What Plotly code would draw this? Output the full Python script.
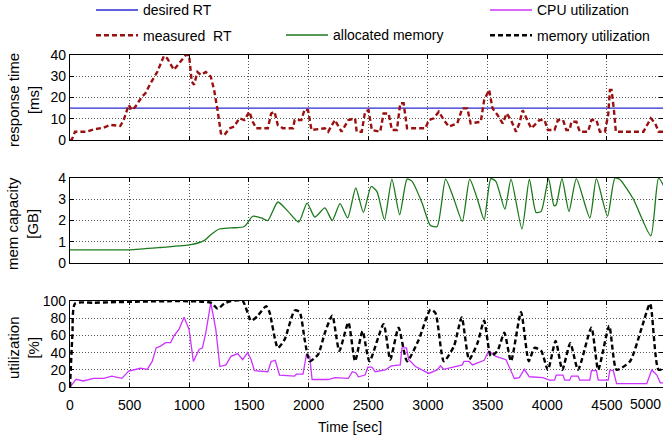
import plotly.graph_objects as go

# ---------------- data ----------------
rt_time = [0, 14, 42, 140, 197, 281, 337, 421, 450, 492, 520, 548, 604, 632, 675, 731, 787, 815, 871, 913,
           970, 998, 1020, 1040, 1068, 1096, 1138, 1180, 1208, 1237, 1265, 1293, 1335, 1377, 1419, 1461,
           1503, 1532, 1560, 1658, 1686, 1714, 1742, 1784, 1869, 1883, 1939, 1967, 1995, 2024, 2136, 2164,
           2220, 2276, 2333, 2389, 2403, 2445, 2473, 2502, 2530, 2600, 2628, 2670, 2698, 2740, 2768, 2796,
           2825, 2979, 3007, 3049, 3091, 3133, 3176, 3246, 3288, 3330, 3358, 3443, 3471, 3513, 3541, 3583,
           3626, 3660, 3696, 3738, 3766, 3794, 3836, 3865, 3893, 3935, 3977, 4005, 4061, 4089, 4132, 4160,
           4188, 4202, 4244, 4272, 4342, 4370, 4412, 4441, 4483, 4511, 4525, 4539, 4559, 4575, 4806, 4834,
           4868, 4905, 4933, 5000]
rt_measured = [0, 0, 3.9, 3.9, 5.0, 5.8, 7.1, 6.6, 9.4, 16.5, 14, 15.7, 20.4, 22, 26.7, 32, 39.5, 38.4, 33, 36,
               40, 40, 27.5, 26, 32, 30.6, 32, 29.8, 23.5, 14, 3.1, 2.3, 5.5, 6.3, 10.2, 9.4,
               13.3, 8.6, 5.5, 5.5, 12.5, 13.3, 7, 5.5, 5.5, 9.4, 9.4, 14.4, 14, 4.7, 5.5, 3.9,
               9.4, 3.9, 9.4, 10.2, 3.9, 3.9, 13.3, 14, 4.7, 3.9, 12.5, 12.5, 4.7, 4.7, 17.3, 17.3,
               5.5, 5.5, 9.4, 10.2, 13.3, 9.4, 6.3, 7.8, 14.9, 14.9, 7.8, 8.6, 18.8, 23.5, 14.9, 11.8,
               7.8, 12.5, 9.4, 3.9, 7.8, 14, 9.4, 5.5, 7, 9.4, 9.4, 4.7, 4.7, 9.4, 9.4, 4.7,
               4.7, 8.6, 8.6, 3.9, 3.9, 9.4, 9.4, 3.9, 3.9, 12, 23.5, 23.5, 14, 3.9, 3.9, 7,
               10.2, 7.8, 3.9, 3.9]
rt_desired_time = [0, 5000]
rt_desired = [15, 15]

mem_time = [0, 250, 500, 759, 1012, 1124, 1180, 1251, 1349, 1461, 1532, 1602, 1658, 1742, 1827, 1917, 1987,
            2052, 2136, 2198, 2263, 2327, 2395, 2459, 2524, 2572, 2636, 2698, 2763, 2825, 2867, 2951, 3021,
            3077, 3148, 3218, 3288, 3350, 3415, 3471, 3527, 3569, 3645, 3696, 3788, 3850, 3906, 3949, 4011,
            4056, 4075, 4123, 4182, 4244, 4357, 4412, 4505, 4567, 4610, 4722, 4868, 4933, 5003]
mem_alloc = [0.62, 0.62, 0.62, 0.73, 0.86, 1.05, 1.33, 1.6, 1.65, 1.72, 2.2, 2.12, 2.0, 2.87, 2.43, 1.93, 2.82,
             2.16, 2.59, 2.0, 2.79, 2.12, 3.53, 2.38, 3.6, 3.37, 2.04, 3.95, 2.27, 3.95, 3.84, 2.82, 1.76,
             1.72, 3.95, 3.0, 1.96, 3.95, 3.0, 2.04, 3.97, 3.84, 2.54, 3.95, 1.6, 3.95, 2.38, 2.43, 3.97,
             2.7, 2.74, 3.97, 2.43, 3.97, 2.12, 3.97, 2.2, 4.0, 3.92, 3.0, 1.28, 4.0, 3.3]

memu_time = [0, 20, 42, 200, 1180, 1237, 1293, 1349, 1447, 1518, 1574, 1644, 1672, 1742, 1798, 1883, 1925,
             1967, 2009, 2080, 2136, 2198, 2257, 2333, 2389, 2452, 2510, 2628, 2684, 2754, 2825, 2923, 3021,
             3063, 3133, 3218, 3283, 3345, 3415, 3471, 3527, 3583, 3640, 3696, 3780, 3845, 3893, 3949, 4005,
             4070, 4126, 4193, 4258, 4370, 4427, 4519, 4581, 4694, 4792, 4862, 4933, 5003]
mem_util = [0, 60, 97, 98, 98, 91, 97, 100, 100, 77, 83, 94, 87, 45.5, 55, 89, 87,
            55, 30, 38, 63, 83, 42, 75, 30, 65, 30, 73, 32, 69, 30, 55, 90,
            86, 30, 47.5, 81, 32, 51, 77, 36, 42, 63, 30, 87, 30, 45.5, 42, 20,
            53.5, 20, 51, 20, 69, 20, 71, 20, 30, 69, 97, 20, 24]

cpu_time = [0, 51, 112, 197, 281, 351, 435, 492, 590, 647, 689, 722, 759, 801, 843, 871, 913, 956, 998, 1034,
            1082, 1110, 1138, 1180, 1222, 1256, 1307, 1349, 1405, 1447, 1489, 1518, 1546, 1658, 1686, 1720,
            1756, 1883, 1897, 1953, 1981, 2009, 2029, 2164, 2220, 2333, 2366, 2395, 2417, 2473, 2496, 2530,
            2558, 2642, 2693, 2768, 2782, 2820, 2839, 2895, 3007, 3049, 3077, 3105, 3133, 3288, 3302, 3345,
            3373, 3471, 3508, 3541, 3569, 3654, 3724, 3766, 3808, 3850, 3963, 4019, 4061, 4075, 4132, 4146,
            4188, 4202, 4258, 4272, 4357, 4370, 4412, 4427, 4511, 4525, 4553, 4581, 4834, 4876, 4919, 4947, 5003]
cpu_util = [0, 9, 7, 10, 10, 12.7, 10, 18.6, 21.8, 20.6, 29.7, 45.5, 47.5, 51.5, 51.5, 59.4, 67, 81, 67, 29.7,
            43.6, 45.5, 63, 98, 67, 23.8, 25.7, 35.6, 38.8, 31.7, 40, 31.7, 19, 17.8, 29.7, 31,
            13.9, 12.7, 15, 15, 37.6, 35.6, 8.7, 8.7, 11, 10, 17.8, 16.6, 11.9, 13.9, 23, 23,
            17.8, 19.8, 24.6, 25.7, 45.5, 45.5, 31.7, 23.8, 15.8, 17.8, 19.8, 24.6, 20.6, 25.7, 29.7, 29.7,
            25.7, 31, 41.6, 38.8, 35.6, 31.7, 10, 11, 20.6, 11.9, 11, 7.9, 7.9, 13.9, 13.9, 7.9,
            7.9, 12.7, 12.7, 7.9, 7.9, 19, 19, 7.9, 7.9, 19.8, 19, 4, 4, 19.8, 13.9, 4.8, 4.8]

x_ticks = [0, 500, 1000, 1500, 2000, 2500, 3000, 3500, 4000, 4500]
rt_ticks = [0, 10, 20, 30, 40]
mem_ticks = [0, 1, 2, 3, 4]
util_ticks = [0, 20, 40, 60, 80, 100]

# ---------------- figure ----------------
FONT = "Liberation Sans, Arial, sans-serif"
FS = 14
W, H = 663, 444
ML = 70
PW = W - ML


def py(p):  # pixel from top -> paper y
    return 1 - p / H


def px(p):  # pixel from left -> paper x
    return (p - ML) / PW


fig = go.Figure()

fig.add_trace(go.Scatter(x=rt_desired_time, y=rt_desired, mode="lines", name="desired RT",
                         line=dict(color="#2b2bd0", width=1.3), xaxis="x", yaxis="y",
                         legend="legend", legendgroup="a"))
fig.add_trace(go.Scatter(x=rt_time, y=rt_measured, mode="lines", name="measured  RT",
                         line=dict(color="#9a1010", width=2.4, dash="5px,3px"), xaxis="x", yaxis="y",
                         legend="legend", legendgroup="b"))
fig.add_trace(go.Scatter(x=mem_time, y=mem_alloc, mode="lines", name="allocated memory",
                         line=dict(color="#1c7a1c", width=1.3, shape="spline", smoothing=0.6),
                         xaxis="x2", yaxis="y2", legend="legend2"))
fig.add_trace(go.Scatter(x=cpu_time, y=cpu_util, mode="lines", name="CPU utilization",
                         line=dict(color="#cc33ff", width=1.3), xaxis="x3", yaxis="y3",
                         legend="legend3", legendgroup="c"))
fig.add_trace(go.Scatter(x=memu_time, y=mem_util, mode="lines", name="memory utilization",
                         line=dict(color="#000000", width=2.4, dash="5px,3px", shape="spline", smoothing=0.6),
                         xaxis="x3", yaxis="y3", legend="legend3", legendgroup="d"))

XR = [0, 4970]
axis_common = dict(showline=True, mirror="ticks", linecolor="black", linewidth=1.3,
                   ticks="inside", ticklen=4, tickcolor="black", automargin=False,
                   showgrid=True, gridcolor="#555555", griddash="1px,2px", gridwidth=1,
                   zeroline=False, tickfont=dict(family=FONT, size=FS, color="black"))

xa = dict(axis_common, range=XR, tickvals=x_ticks)
fig.update_layout(
    xaxis=dict(xa, anchor="y", showticklabels=False),
    xaxis2=dict(xa, anchor="y2", matches="x", showticklabels=False),
    xaxis3=dict(xa, anchor="y3", matches="x", showticklabels=True, ticklabelstandoff=5),
    yaxis=dict(axis_common, domain=[py(140), py(55)], range=[0, 40], tickvals=rt_ticks, anchor="x"),
    yaxis2=dict(axis_common, domain=[py(263), py(178)], range=[0, 4], tickvals=mem_ticks, anchor="x2"),
    yaxis3=dict(axis_common, domain=[py(387), py(301)], range=[0, 100], tickvals=util_ticks, anchor="x3"),
)

leg_common = dict(font=dict(family=FONT, size=FS, color="black"), bgcolor="rgba(0,0,0,0)",
                  borderwidth=0, itemwidth=42, tracegroupgap=4, traceorder="grouped",
                  xanchor="left", yanchor="top")
fig.update_layout(
    legend=dict(leg_common, x=px(91), y=py(-5.6)),
    legend2=dict(leg_common, x=px(281), y=py(19.4)),
    legend3=dict(leg_common, x=px(485), y=py(-5.6)),
)

ann = []
titles = [("response time<br>[ms]", 100), ("mem capacity<br>[GB]", 224), ("utilization<br>[%]", 348)]
for txt, yc in titles:
    ann.append(dict(text=txt, xref="paper", yref="paper", x=px(23), y=py(yc), textangle=-90,
                    showarrow=False, xanchor="center", yanchor="middle",
                    font=dict(family=FONT, size=15, color="black")))
ann.append(dict(text="Time [sec]", xref="paper", yref="paper", x=px(350), y=py(427),
                showarrow=False, xanchor="center", yanchor="middle",
                font=dict(family=FONT, size=FS, color="black")))
ann.append(dict(text="5000", xref="paper", yref="paper", x=1.0, y=py(404),
                showarrow=False, xanchor="right", yanchor="middle",
                font=dict(family=FONT, size=FS, color="black")))

fig.update_layout(
    width=W, height=H, margin=dict(l=ML, r=0, t=0, b=0, autoexpand=False),
    paper_bgcolor="white", plot_bgcolor="white",
    annotations=ann, showlegend=True,
)

fig.write_html("out.html")
